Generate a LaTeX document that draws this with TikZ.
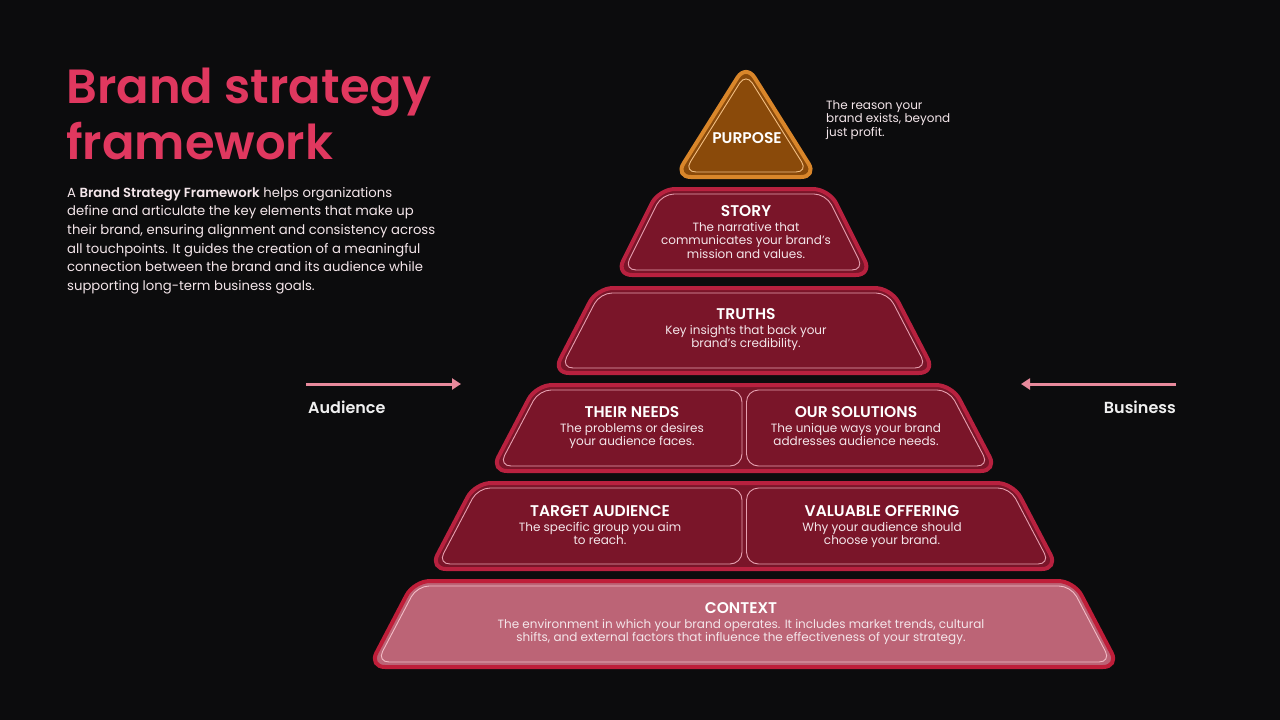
\documentclass[tikz,border=0pt]{standalone}
\usepackage{fontspec}
\setmainfont{Poppins}[BoldFont={* SemiBold}]
\usetikzlibrary{positioning,arrows.meta}

\definecolor{bgdark}{HTML}{0C0C0D}
\definecolor{tierfill}{HTML}{7A1529}
\definecolor{tierborder}{HTML}{B8213F}
\definecolor{tierline}{HTML}{E6A0B0}
\definecolor{contextfill}{HTML}{BC6476}
\definecolor{contextline}{HTML}{F2BCC6}
\definecolor{purposefill}{HTML}{8A4A0A}
\definecolor{purposeborder}{HTML}{D9862A}
\definecolor{purposeline}{HTML}{F2BE82}
\definecolor{titlered}{HTML}{E0385F}
\definecolor{arrowpink}{HTML}{E88A9C}
\definecolor{textlight}{HTML}{F4E6EA}

\tikzset{
  tierouter/.style={draw=tierborder, line width=4pt, fill=tierfill, rounded corners=16pt, line join=round},
  tierinner/.style={draw=tierline, line width=0.9pt, rounded corners=12pt},
  tiertitle/.style={text=white, font=\bfseries\fontsize{15.5}{17}\selectfont, inner sep=0pt, text height=11pt, text depth=0pt},
  tiertext/.style={text=textlight, font=\fontsize{12}{13.5}\selectfont, align=center, inner sep=0pt},
  sidearrow/.style={draw=arrowpink, line width=3pt, -{Triangle[length=9pt,width=11pt]}},
  sidelabel/.style={text=white!94!black, font=\bfseries\fontsize{16}{18}\selectfont, inner sep=0pt},
}

% outline of one tier: top y, bottom y, top half width, bottom half width, style
\newcommand{\tierbox}[5]{%
  \draw[#5] ({744-#3},#1) -- ({744+#3},#1) -- ({744+#4},#2) -- ({744-#4},#2) -- cycle;}
% inner thin line of a whole tier
\newcommand{\tierline}[5]{%
  \draw[tierinner,#5] ({744-#3+3},#1+5) -- ({744+#3-3},#1+5) -- ({744+#4-8},#2-5) -- ({744-#4+8},#2-5) -- cycle;}
% inner thin lines of a tier cut in two
\newcommand{\tiersplit}[4]{%
  \draw[tierinner] ({744-#3+3},#1+5) -- (742,#1+5) -- (742,#2-5) -- ({744-#4+8},#2-5) -- cycle;
  \draw[tierinner] (746.5,#1+5) -- ({744+#3-3},#1+5) -- ({744+#4-8},#2-5) -- (746.5,#2-5) -- cycle;}

\begin{document}
\begin{tikzpicture}[x=1pt,y=-1pt]
\fill[bgdark] (0,0) rectangle (1280,720);
\useasboundingbox (0,0) rectangle (1280,720);

% left text
\node[anchor=north west, inner sep=0pt, align=left, text=titlered,
  font=\bfseries\fontsize{48}{56}\selectfont] (title) at (66,68) {Brand strategy\\framework};
\node[anchor=north west, inner sep=0pt, align=left, text=textlight,
  font=\fontsize{13.2}{18.6}\selectfont] (intro) at (67,187)
  {A \textbf{Brand Strategy Framework} helps organizations\\
   define and articulate the key elements that make up\\
   their brand, ensuring alignment and consistency across\\
   all touchpoints. It guides the creation of a meaningful\\
   connection between the brand and its audience while\\
   supporting long-term business goals.};

% purpose
\draw[draw=purposeborder, line width=4pt, fill=purposefill, rounded corners=16pt, line join=round]
  (746,64) -- (817,177) -- (675,177) -- cycle;
\draw[draw=purposeline, line width=0.9pt, rounded corners=12pt]
  (746,73) -- (808,172) -- (684,172) -- cycle;
\node[tiertitle, anchor=base] (purpose) at (747,143) {PURPOSE};
\node[anchor=north west, inner sep=0pt, align=left, text=textlight,
  font=\fontsize{12}{13.5}\selectfont] (purposenote) at (826,100)
  {The reason your\\brand exists, beyond\\just profit.};

% tiers
\tierbox{189}{275}{85}{128}{tierouter}
\tierline{189}{275}{85}{128}{}
\tierbox{288}{373}{147}{191}{tierouter}
\tierline{288}{373}{147}{191}{}
\tierbox{385}{471}{208}{253}{tierouter}
\tiersplit{385}{471}{208}{253}
\tierbox{483}{569}{269}{314}{tierouter}
\tiersplit{483}{569}{269}{314}
\tierbox{581}{667}{330}{375}{tierouter, fill=contextfill, draw=tierborder!90!red}
\tierline{581}{667}{330}{375}{draw=contextline}

% tier texts
\node[tiertitle, anchor=base] (story) at (746,216) {STORY};
\node[tiertext, below=6pt of story.base] (storytxt)
  {The narrative that\\communicates your brand's\\mission and values.};
\node[tiertitle, anchor=base] (truths) at (746,319) {TRUTHS};
\node[tiertext, below=6pt of truths.base] (truthstxt)
  {Key insights that back your\\brand's credibility.};
\node[tiertitle, anchor=base] (needs) at (632,417) {THEIR NEEDS};
\node[tiertext, below=6pt of needs.base] (needstxt)
  {The problems or desires\\your audience faces.};
\node[tiertitle, anchor=base] (solutions) at (856,417) {OUR SOLUTIONS};
\node[tiertext, below=6pt of solutions.base] (solutionstxt)
  {The unique ways your brand\\addresses audience needs.};
\node[tiertitle, anchor=base] (target) at (600,516) {TARGET AUDIENCE};
\node[tiertext, below=6pt of target.base] (targettxt)
  {The specific group you aim\\to reach.};
\node[tiertitle, anchor=base] (offering) at (882,516) {VALUABLE OFFERING};
\node[tiertext, below=6pt of offering.base] (offeringtxt)
  {Why your audience should\\choose your brand.};
\node[tiertitle, anchor=base] (context) at (741,613) {CONTEXT};
\node[tiertext, below=6pt of context.base] (contexttxt)
  {The environment in which your brand operates. It includes market trends, cultural\\shifts, and external factors that influence the effectiveness of your strategy.};

% side arrows
\coordinate (audfrom) at (306,384);
\coordinate (audto) at (461,384);
\draw[sidearrow] (audfrom) -- (audto);
\node[sidelabel, anchor=base west] (audience) at (308,413) {Audience};
\coordinate (busfrom) at (1176,384);
\coordinate (busto) at (1021,384);
\draw[sidearrow] (busfrom) -- (busto);
\node[sidelabel, anchor=base east] (business) at (1176,413) {Business};
\end{tikzpicture}
\end{document}
